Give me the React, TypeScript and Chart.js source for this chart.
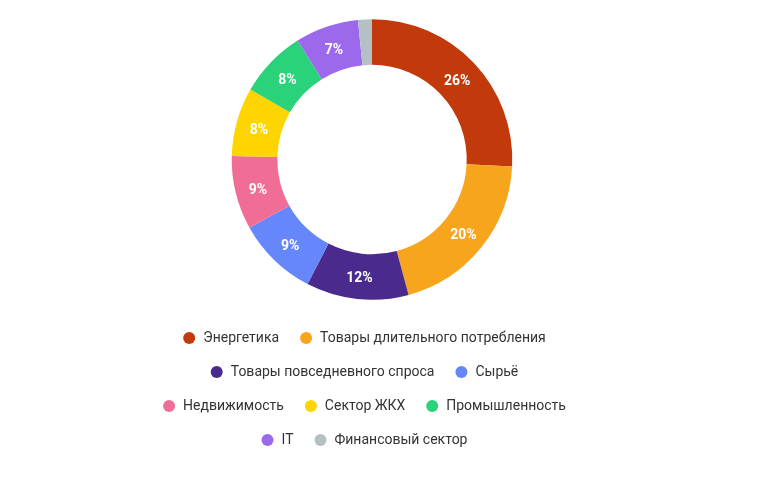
import React, { useEffect, useRef } from "react";
import { Chart, registerables } from "chart.js";

Chart.register(...registerables);

const categories: string[] = [
  "Энергетика",
  "Товары длительного потребления",
  "Товары повседневного спроса",
  "Сырьё",
  "Недвижимость",
  "Сектор ЖКХ",
  "Промышленность",
  "IT",
  "Финансовый сектор",
];

const shares: number[] = [25.8, 20.0, 11.8, 9.3, 8.5, 7.9, 7.8, 7.3, 1.6];

const colors: string[] = [
  "#C2390B",
  "#F8A51E",
  "#4B2A8E",
  "#6687FB",
  "#F06E96",
  "#FED501",
  "#2AD27A",
  "#9C68EC",
  "#B5C0C4",
];

const sliceLabels = {
  id: "sliceLabels",
  afterDatasetsDraw(chart: any) {
    const { ctx } = chart;
    const meta = chart.getDatasetMeta(0);
    const data = chart.data.datasets[0].data as number[];
    const total = data.reduce((a, b) => a + b, 0);
    ctx.save();
    ctx.fillStyle = "#ffffff";
    ctx.font = "bold 14px Roboto";
    ctx.textAlign = "center";
    ctx.textBaseline = "middle";
    meta.data.forEach((arc: any, i: number) => {
      const pct = (data[i] / total) * 100;
      if (pct < 3) return;
      const p = arc.tooltipPosition();
      ctx.fillText(Math.round(pct) + "%", p.x, p.y + 2.5);
    });
    ctx.restore();
  },
};

const legendShift = {
  id: "legendShift",
  afterLayout(chart: any) {
    const lg = chart.legend;
    if (lg) {
      lg.left -= 8;
      lg.right -= 8;
    }
  },
};

export default function App() {
  const ref = useRef<HTMLCanvasElement>(null);
  useEffect(() => {
    if (!ref.current) return;
    const chart = new Chart(ref.current, {
      type: "doughnut",
      data: {
        labels: categories,
        datasets: [
          {
            data: shares,
            backgroundColor: colors,
            borderWidth: 0,
            radius: 140.3,
          },
        ],
      },
      options: {
        animation: false,
        responsive: false,
        cutout: "67.5%",
        layout: { padding: 0 },
        plugins: {
          tooltip: { enabled: false },
          legend: {
            position: "bottom",
            labels: {
              usePointStyle: true,
              pointStyle: "circle",
              boxHeight: 8.5,
              padding: 20,
              color: "#333333",
              font: { family: "Roboto", size: 14 },
            },
          },
        },
      },
      plugins: [sliceLabels, legendShift],
    });
    return () => chart.destroy();
  }, []);
  return (
    <div style={{ marginLeft: 134, width: 460 }}>
      <canvas ref={ref} width={460} height={449} style={{ display: "block" }} />
    </div>
  );
}
